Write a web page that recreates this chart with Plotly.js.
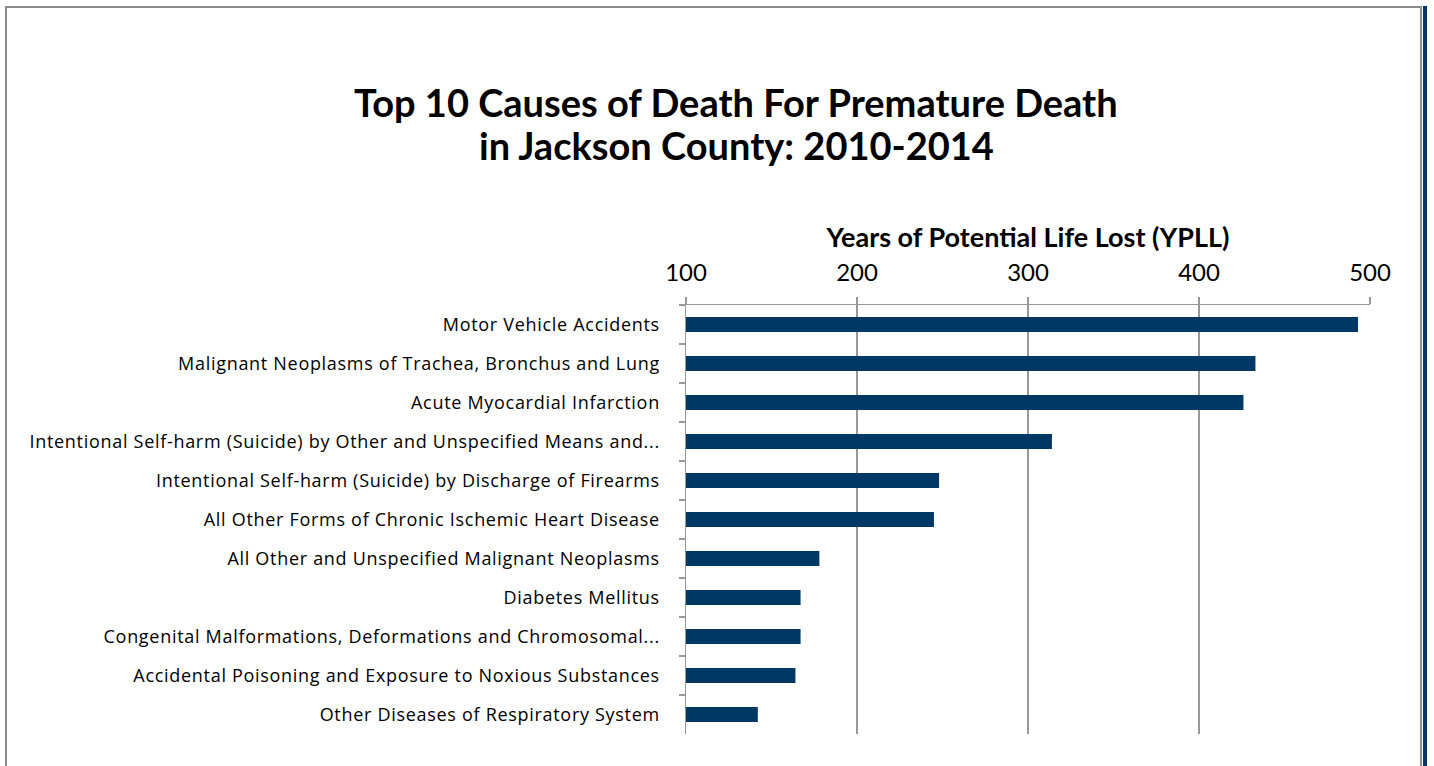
<!DOCTYPE html>
<html>
<head>
<meta charset="utf-8">
<script src="https://cdn.plot.ly/plotly-3.0.1.min.js"></script>
<style>
html,body{margin:0;padding:0;background:#fff;}
#wrap{position:relative;width:1434px;height:766px;overflow:hidden;}
#chart{position:absolute;left:0;top:0;width:1434px;height:766px;}
#chart g.ytick text{letter-spacing:0.7px;}
#frame{position:absolute;left:5px;top:6px;width:1413px;height:800px;border-left:2px solid #8c8c8c;border-top:2px solid #8c8c8c;border-right:2px solid #8c8c8c;pointer-events:none;}
#edge{position:absolute;left:1423px;top:6px;width:4px;height:800px;background:#003865;pointer-events:none;}
</style>
</head>
<body>
<div id="wrap">
<div id="chart"></div>
<div id="frame"></div>
<div id="edge"></div>
</div>
<script>
const causes = [
  "Motor Vehicle Accidents",
  "Malignant Neoplasms of Trachea, Bronchus and Lung",
  "Acute Myocardial Infarction",
  "Intentional Self-harm (Suicide) by Other and Unspecified Means and...",
  "Intentional Self-harm (Suicide) by Discharge of Firearms",
  "All Other Forms of Chronic Ischemic Heart Disease",
  "All Other and Unspecified Malignant Neoplasms",
  "Diabetes Mellitus",
  "Congenital Malformations, Deformations and Chromosomal...",
  "Accidental Poisoning and Exposure to Noxious Substances",
  "Other Diseases of Respiratory System"
];
const ypll = [493, 433, 426, 314, 248, 245, 178, 167, 167, 164, 142];
const xTicks = [100, 200, 300, 400, 500];
const titleLines = ["Top 10 Causes of Death For Premature Death", "in Jackson County: 2010-2014"];

const FONT = "Lato, sans-serif";
const LFONT = "'Open Sans', sans-serif";
const trace = {
  type: 'bar',
  orientation: 'h',
  y: causes,
  x: ypll,
  base: 0,
  width: 0.385,
  marker: {color: '#003865', line: {width: 0}},
  hoverinfo: 'x+y'
};
const titleX = (736 - 686) / 684;
const titleY = [(734 - 102) / 429, (734 - 145) / 429];
const layout = {
  width: 1434, height: 766,
  paper_bgcolor: '#ffffff', plot_bgcolor: '#ffffff',
  margin: {l: 686, r: 64, t: 305, b: 32, pad: 0},
  showlegend: false,
  font: {family: FONT, color: '#000'},
  annotations: titleLines.map((t, i) => ({
    text: '<b>' + t + '</b>',
    xref: 'paper', yref: 'paper', x: titleX, y: titleY[i],
    showarrow: false, xanchor: 'center', yanchor: 'middle',
    font: {family: FONT, size: 38, color: '#000'}
  })),
  xaxis: {
    side: 'top',
    range: [100, 500],
    tickvals: xTicks,
    ticktext: xTicks.map(String),
    showgrid: true, gridcolor: '#999999', gridwidth: 1.5,
    showline: true, linecolor: '#999999', linewidth: 1.5,
    ticks: 'outside', ticklen: 7, tickcolor: '#999999', tickwidth: 1.5,
    tickfont: {family: FONT, size: 24, color: '#000'},
    ticklabelstandoff: 6,
    zeroline: false,
    title: {text: '<b>Years of Potential Life Lost (YPLL)</b>', font: {family: FONT, size: 27, color: '#000'}, standoff: 1},
    fixedrange: true
  },
  yaxis: {
    type: 'category',
    autorange: 'reversed',
    showgrid: false,
    showline: true, linecolor: '#999999', linewidth: 1.5,
    ticks: 'outside', ticklen: 6, tickcolor: '#999999', tickwidth: 1.5,
    tickson: 'boundaries',
    tickfont: {family: LFONT, size: 18, color: '#000'},
    ticklabelstandoff: 21,
    fixedrange: true
  },
  bargap: 0.6
};
Plotly.newPlot('chart', [trace], layout, {displayModeBar: false, staticPlot: true});
</script>
</body>
</html>
